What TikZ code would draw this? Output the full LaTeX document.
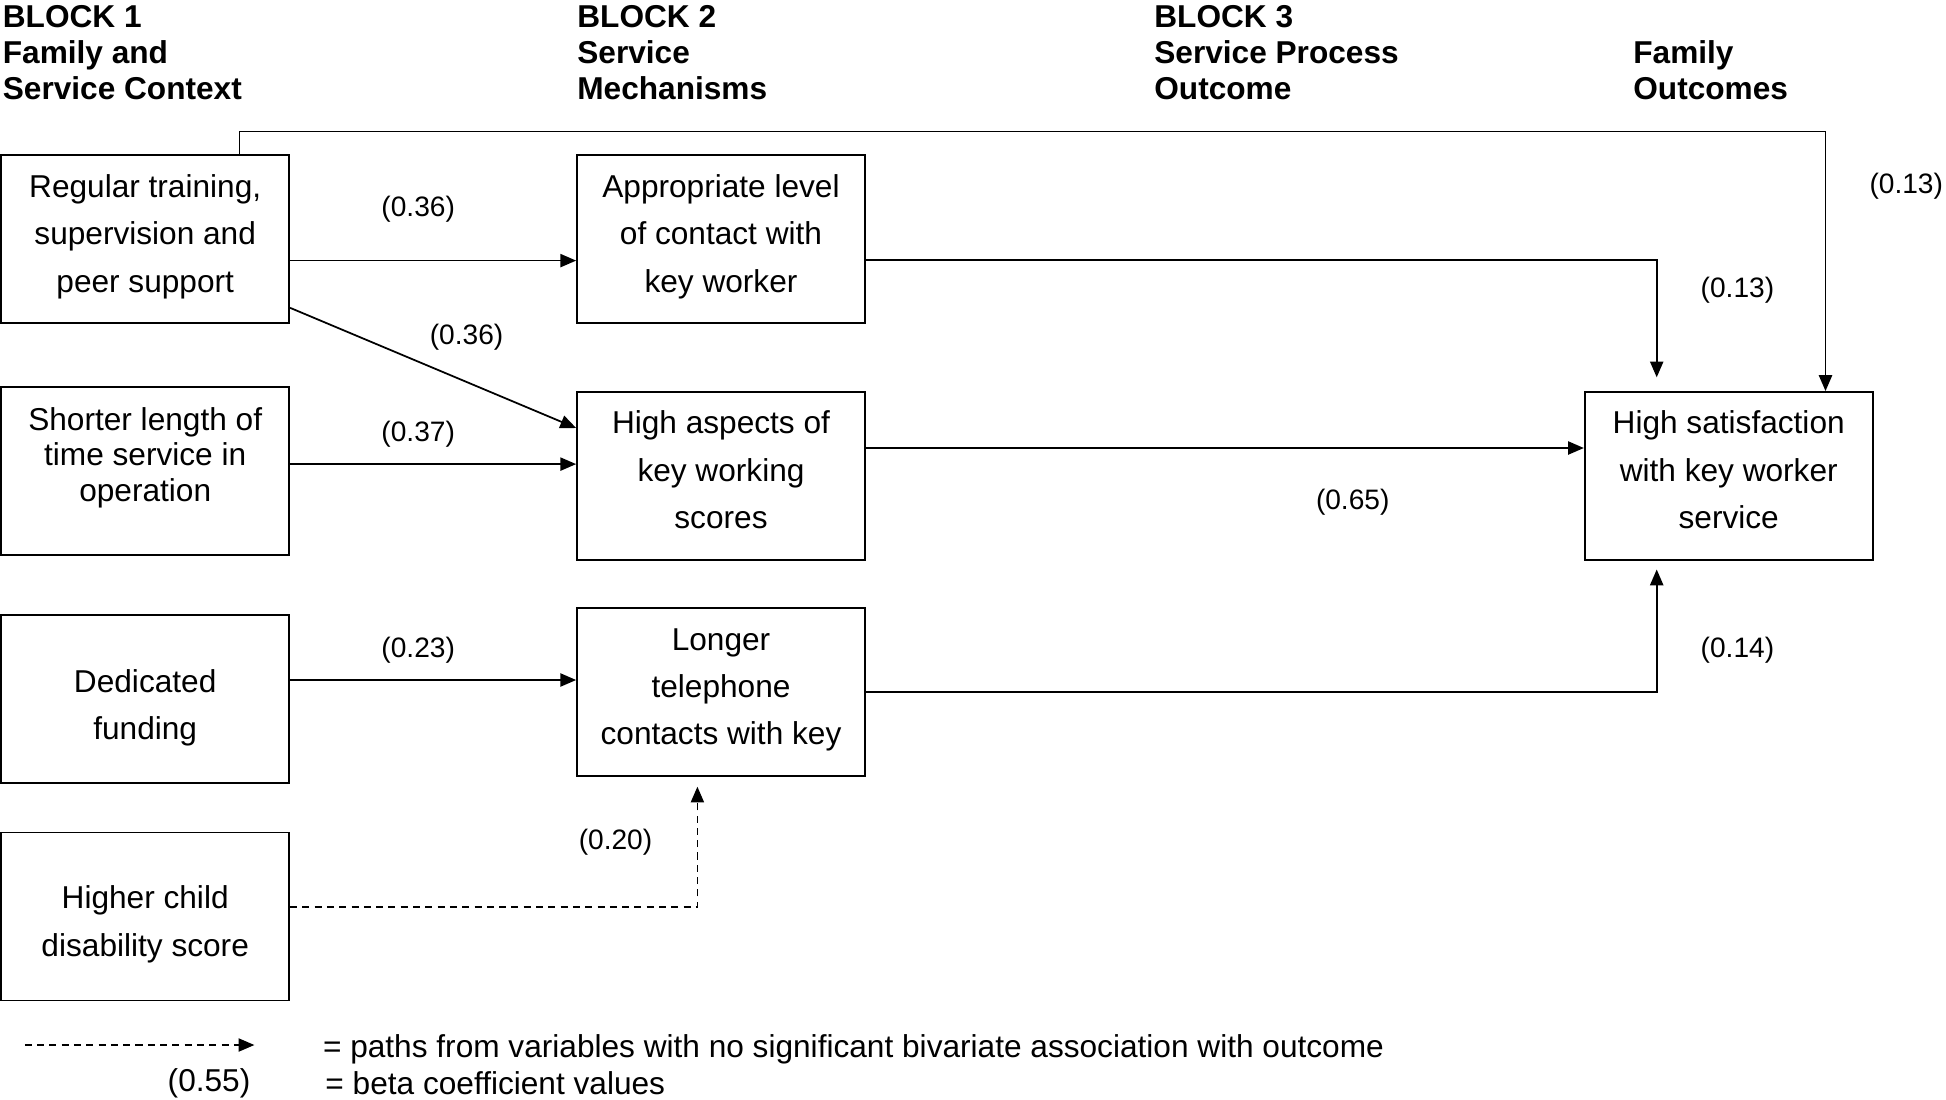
\documentclass[tikz,border=0pt]{standalone}
\usepackage{fontspec}
\setmainfont{Liberation Sans}
\usepackage{tikz}
\usetikzlibrary{
  positioning,
  calc,
  arrows.meta
}
\tikzstyle{box}=[draw, line width=1pt, minimum width=5.76cm, minimum height=3.36cm, align=center, inner sep=0pt, font=\fontsize{18}{27}\selectfont]
\tikzstyle{head}=[anchor=north west, inner sep=0pt, align=left, font=\bfseries\fontsize{18}{20.4}\selectfont]
\tikzstyle{coef}=[inner sep=0pt, yshift=-2.1pt, font=\fontsize{16}{19}\selectfont]
\tikzstyle{legend}=[inner sep=0pt, font=\fontsize{18}{21}\selectfont]
\tikzstyle{arr}=[line width=1pt, -{Triangle[length=9pt, width=7.5pt]}]
\tikzstyle{auxline}=[dash pattern=on 4pt off 3pt]

\begin{document}
\begin{tikzpicture}[x=0.02cm, y=-0.02cm]
      \useasboundingbox (0,0) rectangle (1946,1099);

      % 見出し
      \node[head] (b1) at (2.5,5) {BLOCK 1\\Family and\\Service Context};
      \node[head] (b2) at (577,5) {BLOCK 2\\Service\\Mechanisms};
      \node[head] (b3) at (1154,5) {BLOCK 3\\Service Process\\Outcome};
      \node[head] (b4) at (1633,40) {Family\\Outcomes};

      % BLOCK 1の箱
      \node[box, text depth=6.6pt] (rt) at (145.2,238.9) {Regular training,\\supervision and\\peer support};
      \node[box, font=\fontsize{18}{20.4}\selectfont, text depth=18.8pt] (st) at (145.2,471) {Shorter length of\\time service in\\operation};
      \node[box, text height=45.7pt, text depth=0pt] (df) at (145.2,699.3) {Dedicated\\funding};
      \node[box, text height=45pt, text depth=0pt] (hc) at (145.2,916.5) {Higher child\\disability score};

      % BLOCK 2の箱
      \node[box, text depth=6.6pt] (al) at (721,238.9) {Appropriate level\\of contact with\\key worker};
      \node[box, text depth=7pt] (ha) at (721,475.9) {High aspects of\\key working\\scores};
      \node[box, text depth=6pt] (lt) at (721,691.9) {Longer\\telephone\\contacts with key};

      % 結果の箱
      \node[box, text depth=7pt] (hs) at (1728.7,475.9) {High satisfaction\\with key worker\\service};

      % 矢印の端点
      \coordinate (p1) at ($(rt.east)+(0,21.7)$);
      \coordinate (p2) at ($(al.east)+(0,21)$);
      \coordinate (q2) at ($(hs.north)+(-72,-13.7)$);
      \coordinate (p3) at ($(rt.north)+(94.3,0)$);
      \coordinate (q3) at ($(hs.north)+(96.8,0)$);
      \coordinate (p4) at ($(rt.east)+(0,68.9)$);
      \coordinate (q4) at ($(ha.west)+(0,-47.9)$);
      \coordinate (p5) at ($(st.east)+(0,-6.9)$);
      \coordinate (p6) at ($(ha.east)+(0,-27.9)$);
      \coordinate (p7) at ($(df.east)+(0,-19.3)$);
      \coordinate (q8) at ($(hs.south)+(-72,8.7)$);
      \coordinate (p9) at ($(hc.east)+(0,-9.3)$);
      \coordinate (q9) at ($(lt.south)+(-23.6,9.9)$);

      % 実線の矢印
      \draw[arr] (p1) -- (p1 -| al.west);
      \draw[arr] (p4) -- (q4);
      \draw[arr] (p5) -- (p5 -| ha.west);
      \draw[arr] (p7) -- (p7 -| lt.west);
      \draw[arr] (p2) -| (q2);
      \draw[arr] (p6) -- (p6 -| hs.west);
      \draw[arr] (lt.east) -| (q8);
      \draw[arr] (p3) -- ++(0,-22.5) -| (q3);

      % 破線の矢印
      \draw[arr, auxline] (p9) -| (q9);

      % 係数
      \node[coef] (c1) at (418.2,206) {(0.36)};
      \node[coef] (c2) at (466.6,333.8) {(0.36)};
      \node[coef] (c3) at (418.2,430.6) {(0.37)};
      \node[coef] (c4) at (418.2,646.6) {(0.23)};
      \node[coef] (c5) at (615.5,838.9) {(0.20)};
      \node[coef] (c6) at (1352.7,498.9) {(0.65)};
      \node[coef] (c7) at (1906.2,182.4) {(0.13)};
      \node[coef] (c8) at (1737.4,286.7) {(0.13)};
      \node[coef] (c9) at (1737.4,646.6) {(0.14)};

      % 凡例
      \coordinate (legA) at (24.8,1045);
      \coordinate (legB) at (254.4,1045);
      \draw[arr, auxline, line width=0.8pt] (legA) -- (legB);
      \node[legend, anchor=west] (leg1) at (322.7,1049.5) {= paths from variables with no significant bivariate association with outcome};
      \node[legend, anchor=east] (leg2) at (250.7,1083) {(0.55)};
      \node[legend, anchor=west] (leg3) at (325.1,1083) {= beta coefficient values};
    \end{tikzpicture}
\end{document}
